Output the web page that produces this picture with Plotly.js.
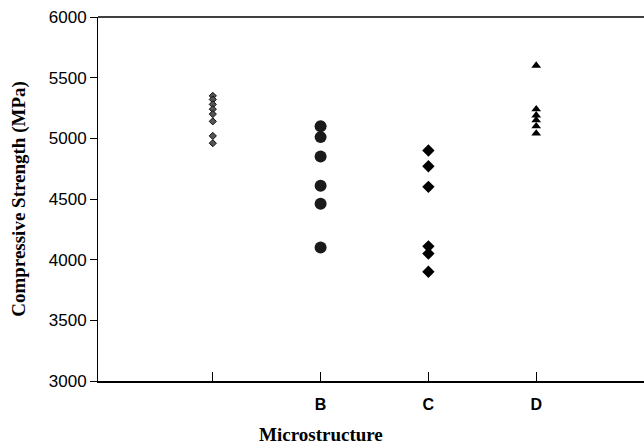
<!DOCTYPE html>
<html><head><meta charset="utf-8">
<script src="https://cdn.plot.ly/plotly-3.0.1.min.js"></script>
<style>html,body{margin:0;padding:0;background:#fff;overflow:hidden}#chart{width:650px;height:446px}</style>
</head><body><div id="chart"></div>
<script>
const tickPositions = [1, 2, 3, 4];
const tickLabels = ["", "B", "C", "D"];
const seriesA = [5350, 5320, 5280, 5240, 5200, 5140, 5020, 4960];
const seriesB = [5100, 5010, 4850, 4610, 4460, 4100];
const seriesC = [4900, 4770, 4600, 4110, 4050, 3900];
const seriesD = [5600, 5240, 5190, 5150, 5100, 5040];

function xs(pos, n){ return Array(n).fill(pos); }

const traces = [
  {x: xs(tickPositions[0], seriesA.length), y: seriesA, type:'scatter', mode:'markers',
   marker:{symbol:'diamond', size:5.5, color:'#555', line:{color:'#111', width:1}}},
  {x: xs(tickPositions[1], seriesB.length), y: seriesB, type:'scatter', mode:'markers',
   marker:{symbol:'circle', size:12, color:'#1a1a1a', line:{color:'#000', width:0}}},
  {x: xs(tickPositions[2], seriesC.length), y: seriesC, type:'scatter', mode:'markers',
   marker:{symbol:'diamond', size:9.5, color:'#000'}},
  {x: xs(tickPositions[3], seriesD.length), y: seriesD, type:'scatter', mode:'markers',
   marker:{symbol:'triangle-up', size:8.5, color:'#000'}}
];

const layout = {
  width:650, height:446,
  margin:{l:98, r:6, t:17, b:65},
  paper_bgcolor:'#fff', plot_bgcolor:'#fff',
  showlegend:false,
  xaxis:{range:[-0.065, 5], tickvals:tickPositions, ticktext:tickLabels,
    showgrid:false, zeroline:false, showline:true, linecolor:'#000', linewidth:1.5, mirror:false,
    ticks:'inside', ticklen:9, tickcolor:'#000', tickwidth:1, ticklabelstandoff:8,
    tickfont:{family:'Liberation Sans, Arial', size:16, color:'#000', weight:'bold'}},
  yaxis:{range:[3000, 6000], dtick:500, showgrid:false, zeroline:false,
    showline:true, linecolor:'#000', linewidth:1, mirror:false,
    ticks:'outside', ticklen:7, tickcolor:'#000', tickwidth:1,
    tickfont:{family:'Liberation Sans, Arial', size:17, color:'#000'}},
  shapes:[{type:'line', xref:'paper', yref:'paper', x0:0, x1:1, y0:1, y1:1,
    line:{color:'#000', width:1.5}}],
  annotations:[
    {text:'Microstructure', xref:'x', yref:'paper', x:2, y:-0.146, yanchor:'middle', xanchor:'center',
     showarrow:false, font:{family:'Liberation Serif, Times New Roman', size:19, color:'#000', weight:'bold'}},
    {text:'Compressive Strength (MPa)', xref:'paper', yref:'paper', x:-0.145, y:0.5, textangle:-90,
     xanchor:'center', yanchor:'middle',
     showarrow:false, font:{family:'Liberation Serif, Times New Roman', size:19, color:'#000', weight:'bold'}}
  ]
};
Plotly.newPlot('chart', traces, layout, {displayModeBar:false, staticPlot:true});
</script></body></html>
